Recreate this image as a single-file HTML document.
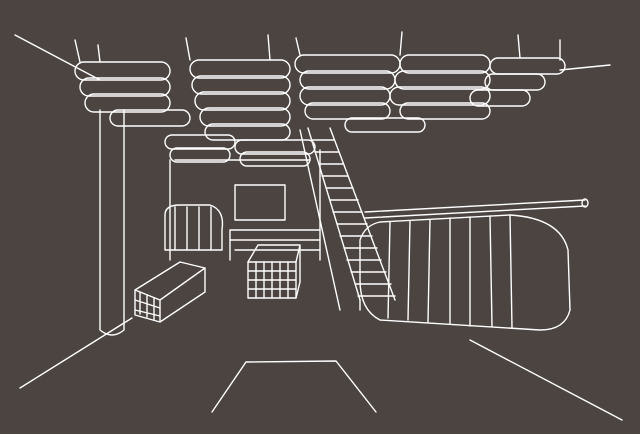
<!DOCTYPE html>
<html><head><meta charset="utf-8"><style>
html,body{margin:0;padding:0;background:#4b4441;}
svg{display:block}
</style></head><body>
<svg width="640" height="434" viewBox="0 0 640 434" xmlns="http://www.w3.org/2000/svg" fill="none" stroke="#fff" stroke-width="1.4" stroke-linecap="round" stroke-linejoin="round">
<rect width="640" height="434" fill="#4b4441" stroke="none"/>
<!-- perspective lines -->
<path d="M15 35 L100 80"/>
<path d="M20 388 L132 318"/>
<path d="M470 340 L622 420"/>
<path d="M560 70 L610 65"/>
<!-- floor trapezoid -->
<path d="M212 412 L246 362 L336 361 L376 412"/>
<!-- pillar -->
<path d="M100 110 L100 330 Q112 340 124 330 L124 110"/>
<!-- ceiling cushions -->
<g>
<rect x="75" y="62" width="95" height="18" rx="9"/>
<rect x="80" y="78" width="90" height="18" rx="9"/>
<rect x="85" y="94" width="85" height="18" rx="9"/>
<rect x="110" y="110" width="80" height="16" rx="8"/>
<rect x="190" y="60" width="100" height="18" rx="9"/>
<rect x="192" y="76" width="98" height="18" rx="9"/>
<rect x="195" y="92" width="95" height="18" rx="9"/>
<rect x="200" y="108" width="90" height="18" rx="9"/>
<rect x="205" y="124" width="85" height="16" rx="8"/>
<rect x="295" y="55" width="105" height="18" rx="9"/>
<rect x="300" y="71" width="95" height="18" rx="9"/>
<rect x="300" y="87" width="90" height="18" rx="9"/>
<rect x="305" y="103" width="85" height="16" rx="8"/>
<rect x="400" y="55" width="90" height="18" rx="9"/>
<rect x="395" y="71" width="95" height="18" rx="9"/>
<rect x="390" y="87" width="100" height="18" rx="9"/>
<rect x="400" y="103" width="90" height="16" rx="8"/>
<rect x="490" y="58" width="75" height="16" rx="8"/>
<rect x="485" y="74" width="60" height="16" rx="8"/>
<rect x="470" y="90" width="60" height="16" rx="8"/>
<rect x="165" y="135" width="70" height="14" rx="7"/>
<rect x="170" y="148" width="60" height="14" rx="7"/>
<rect x="235" y="140" width="80" height="14" rx="7"/>
<rect x="240" y="152" width="70" height="14" rx="7"/>
<rect x="345" y="118" width="80" height="14" rx="7"/>
<path d="M80 62 L75 40 M100 62 L98 45 M190 60 L186 38 M270 60 L268 35 M300 55 L296 38 M400 55 L402 32 M520 58 L518 35 M560 60 L560 40"/>
</g>
<!-- back room -->
<path d="M170 160 L170 260 M320 150 L320 260 M230 260 L230 230 L320 230"/>
<path d="M175 160 L310 160"/>
<rect x="235" y="185" width="50" height="35"/>
<path d="M230 240 L320 240 M235 250 L320 250"/>
<!-- left garments -->
<path d="M165 215 Q165 205 180 205 L210 205 Q225 210 222 230 L222 250 L165 250 Z"/>
<path d="M175 207 L175 250 M187 207 L187 250 M199 207 L199 250 M211 207 L211 250"/>
<!-- low bench -->
<path d="M135 290 L180 262 L205 268 L160 300 L135 290 Z M135 290 L135 315 L160 322 L160 300 M160 322 L205 292 L205 268"/>
<path d="M140 292 L140 314 M147 295 L147 317 M154 298 L154 320 M135 300 L160 308 M135 310 L160 316"/>
<!-- cube -->
<rect x="248" y="262" width="48" height="36"/>
<path d="M248 262 L258 245 L300 245 L296 262 M300 245 L300 282 L296 298"/>
<path d="M256 262 L256 298 M264 262 L264 298 M272 262 L272 298 M280 262 L280 298 M288 262 L288 298 M248 271 L296 271 M248 280 L296 280 M248 289 L296 289"/>
<!-- stairs -->
<path d="M308 128 L360 300 M330 128 L395 300"/>
<path d="M312 140 L334 140 M315 152 L338 152 M319 164 L343 164 M322 176 L348 176 M326 188 L353 188 M330 200 L358 200 M333 212 L362 212 M337 224 L367 224 M340 236 L372 236 M344 248 L377 248 M347 260 L381 260 M351 272 L386 272 M355 284 L391 284 M358 296 L395 296"/>
<path d="M300 130 L340 310 M360 300 L360 310"/>
<!-- rail -->
<path d="M365 212 L585 200 M365 218 L585 206"/>
<ellipse cx="585" cy="203" rx="3" ry="4"/>
<!-- right garments -->
<path d="M360 240 Q365 225 380 222 L510 215 Q560 218 568 250 L570 310 Q565 330 540 330 L380 320 Q360 310 360 280 Z"/>
<path d="M390 222 L388 318 M410 221 L408 320 M430 220 L428 322 M450 218 L450 324 M470 217 L470 326 M510 215 L512 328 M490 216 L492 326"/>
</svg>
</body></html>
